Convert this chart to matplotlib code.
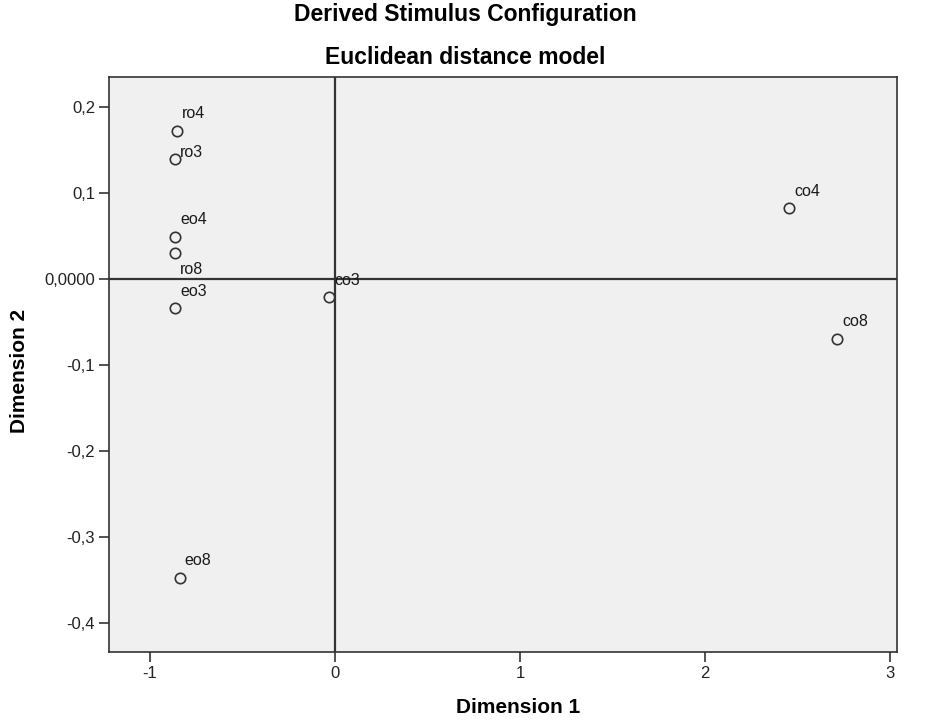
import matplotlib
matplotlib.use("Agg")
import matplotlib.pyplot as plt

# Stimulus coordinates in the two-dimensional solution
stimuli = ["ro4", "ro3", "eo4", "ro8", "eo3", "co3", "eo8", "co4", "co8"]
dim1 = [-0.854, -0.865, -0.863, -0.865, -0.863, -0.032, -0.839, 2.454, 2.716]
dim2 = [0.1719, 0.1390, 0.0491, 0.0298, -0.0340, -0.0213, -0.3469, 0.0821, -0.0697]

x_ticks = [-1, 0, 1, 2, 3]
x_tick_labels = ["-1", "0", "1", "2", "3"]
y_ticks = [0.2, 0.1, 0.0, -0.1, -0.2, -0.3, -0.4]
y_tick_labels = ["0,2", "0,1", "0,0000", "-0,1", "-0,2", "-0,3", "-0,4"]

# label placement (offset in points from each marker) to keep labels apart
default_offset = (3.6, 12.2)
label_offsets = {"ro3": (3.6, 5.0), "ro8": (3.6, -11.5)}

plt.rcParams["font.family"] = ["Liberation Sans", "DejaVu Sans"]

fig = plt.figure(figsize=(9.25, 7.27), dpi=100)
fig.patch.set_facecolor("white")
ax = fig.add_axes([109 / 925, 1 - 652.3 / 727, (897 - 109) / 925, (652.3 - 77) / 727])
ax.set_facecolor("#f0f0f0")

ax.set_xlim(-1.2216, 3.038)
ax.set_ylim(-0.4337, 0.2345)

ax.axhline(0, color="#333333", lw=1.6, zorder=1)
ax.axvline(0, color="#333333", lw=1.6, zorder=1)

ax.plot(dim1, dim2, linestyle="none", marker="o", markersize=7.5,
        markerfacecolor="none", markeredgecolor="#333333", markeredgewidth=1.2, zorder=3)

for name, x, y in zip(stimuli, dim1, dim2):
    dx, dy = label_offsets.get(name, default_offset)
    ax.annotate(name, (x, y), xytext=(dx, dy), textcoords="offset points",
                ha="left", va="center", fontsize=11.5, color="#1a1a1a", zorder=4)

ax.set_xticks(x_ticks)
ax.set_xticklabels(x_tick_labels)
ax.set_yticks(y_ticks)
ax.set_yticklabels(y_tick_labels)
ax.tick_params(direction="out", length=7, width=1.2, color="#333333",
               labelsize=12, labelcolor="#222222", pad=3)
for s in ax.spines.values():
    s.set_color("#333333")
    s.set_linewidth(1.2)

ax.set_xlabel("Dimension 1", fontsize=15, fontweight="bold", labelpad=10)
ax.xaxis.set_label_coords((518 - 109) / (897 - 109), -(698 - 652.3) / (652.3 - 77))
ax.set_ylabel("Dimension 2", fontsize=15, fontweight="bold", labelpad=10)
ax.yaxis.set_label_coords(-(109 - 29) / (897 - 109), (652.3 - 371) / (652.3 - 77))

fig.text(465 / 925, 1 - 15 / 727, "Derived Stimulus Configuration", ha="center", va="center",
         fontsize=16.5, fontweight="bold")
fig.text(465 / 925, 1 - 58 / 727, "Euclidean distance model", ha="center", va="center",
         fontsize=16.5, fontweight="bold")

fig.savefig("out.png", dpi=100)
